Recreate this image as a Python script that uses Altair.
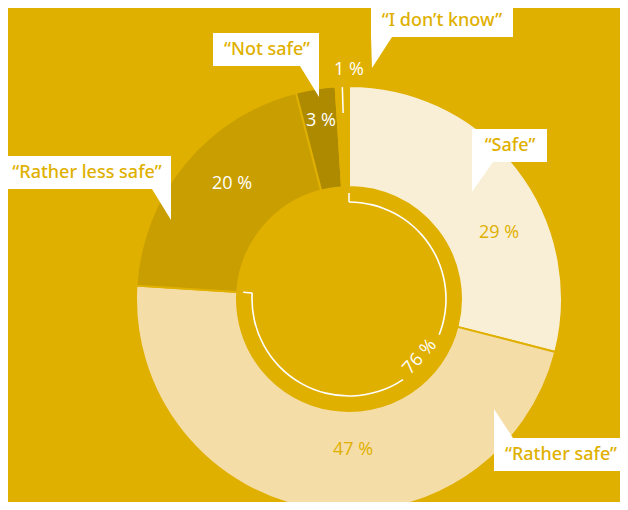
import math
import altair as alt
import pandas as pd

# ---------------- data ----------------
categories = ["Safe", "Rather safe", "Rather less safe", "Not safe", "I don't know"]
values = [29, 47, 20, 3, 1]
value_labels = ["29 %", "47 %", "20 %", "3 %", "1 %"]
callout_texts = ["\u201cSafe\u201d", "\u201cRather safe\u201d", "\u201cRather less safe\u201d",
                 "\u201cNot safe\u201d", "\u201cI don\u2019t know\u201d"]
combined_label = "76 %"
combined_value = 76  # Safe + Rather safe

# ---------------- style / layout ----------------
BG = "#E0B000"
seg_colors = ["#F9EFD6", "#F5DDA8", "#C89E00", "#AE8A00", BG]
label_colors = [BG, BG, "white", "white", "white"]
FONT_NUM = "Open Sans"
FONT_CALL = "Noto Sans"

OFF = 8
W, H = 612, 494
CX, CY = 349 - OFF, 299 - OFF
R_OUT, R_IN = 213, 112
R_RING = 97
R_TICK = 106
GAP = (31.0, 40.6)  # gap in the inner ring for its label (percent units)

# label anchor positions (page pixels)
label_pos = [(499, 233), (353, 450), (232, 184), (321, 121), (349, 70)]
combined_pos = (420, 357)
# callout boxes (x1, x2, y1, y2), text centre, pointer triangle
boxes = [(472, 547, 129, 162), (494, 620, 438, 471), (8, 171, 156, 189),
         (213, 319, 33, 66), (371, 513, 8, 37)]
text_c = [(510, 146), (561, 455), (87, 173), (267, 50), (442, 21)]
tris = [[(472, 162), (493, 162), (472, 192)],
        [(494, 438), (513, 438), (494, 409)],
        [(152, 189), (171, 189), (171, 220)],
        [(300, 66), (319, 66), (319, 97)],
        [(371, 37), (392, 37), (372, 68)]]

TAU = 2 * math.pi
total = sum(values)

seg = pd.DataFrame({"cat": categories, "value": values})
seg["t1"] = seg["value"].cumsum() / total * TAU
seg["t0"] = seg["t1"] - seg["value"] / total * TAU

outer = alt.Chart(seg).mark_arc(
    x=CX, y=CY, radius=R_OUT, radius2=R_IN, stroke=BG, strokeWidth=2
).encode(
    theta=alt.Theta("t0:Q", scale=None, stack=False),
    theta2="t1:Q",
    color=alt.Color("cat:N", scale=alt.Scale(domain=categories, range=seg_colors), legend=None),
)

# inner ring for the combined share
ring = pd.DataFrame({
    "t0": [0, GAP[1] / 100 * TAU],
    "t1": [GAP[0] / 100 * TAU, combined_value / 100 * TAU],
})
ring_arc = alt.Chart(ring).mark_arc(
    x=CX, y=CY, radius=R_RING + 0.8, radius2=R_RING - 0.8, fill="white"
).encode(
    theta=alt.Theta("t0:Q", scale=None, stack=False), theta2="t1:Q"
)

# radial ticks: ring ends + the 1 % slice marker
last_mid = (total - values[-1] / 2) / total * TAU
ticks = pd.DataFrame({
    "t": [0, combined_value / 100 * TAU, last_mid],
    "r1": [R_RING, R_RING, R_OUT - 1],
    "r2": [R_TICK, R_TICK, R_OUT - 27],
})
tick_rules = alt.Chart(ticks).transform_calculate(
    x1=f"{CX} + datum.r1 * sin(datum.t)",
    y1=f"{CY} - datum.r1 * cos(datum.t)",
    x2=f"{CX} + datum.r2 * sin(datum.t)",
    y2=f"{CY} - datum.r2 * cos(datum.t)",
).mark_rule(color="white", strokeWidth=1.5).encode(
    x=alt.X("x1:Q", scale=None), y=alt.Y("y1:Q", scale=None),
    x2="x2:Q", y2="y2:Q",
)

lab = pd.DataFrame({
    "label": value_labels,
    "color": label_colors,
    "px": [p[0] - OFF for p in label_pos],
    "py": [p[1] - OFF for p in label_pos],
})
labels = alt.Chart(lab).mark_text(font=FONT_NUM, fontSize=18, baseline="middle", align="center").encode(
    x=alt.X("px:Q", scale=None), y=alt.Y("py:Q", scale=None),
    text="label:N", color=alt.Color("color:N", scale=None),
)

comb = pd.DataFrame({"label": [combined_label], "px": [combined_pos[0] - OFF], "py": [combined_pos[1] - OFF]})
comb_text = alt.Chart(comb).mark_text(
    font=FONT_NUM, fontSize=18, angle=312, color="white", baseline="middle", align="center"
).encode(x=alt.X("px:Q", scale=None), y=alt.Y("py:Q", scale=None), text="label:N")

# callouts
def tri_path(t):
    (ax, ay) = t[0]
    pts = [(x - ax, y - ay) for x, y in t]
    return "M{},{}L{},{}L{},{}Z".format(*[c for p in pts for c in p])

call = pd.DataFrame({
    "text": callout_texts,
    "x1": [b[0] - OFF for b in boxes], "x2": [b[1] - OFF for b in boxes],
    "y1": [b[2] - OFF for b in boxes], "y2": [b[3] - OFF for b in boxes],
    "tx": [c[0] - OFF for c in text_c], "ty": [c[1] - OFF for c in text_c],
    "ax": [t[0][0] - OFF for t in tris], "ay": [t[0][1] - OFF for t in tris],
    "path": [tri_path(t) for t in tris],
})
pointers = alt.Chart(call).mark_point(filled=True, size=4, opacity=1, fill="white", strokeWidth=0).encode(
    x=alt.X("ax:Q", scale=None), y=alt.Y("ay:Q", scale=None),
    shape=alt.Shape("path:N", scale=None),
)
box_rects = alt.Chart(call).mark_rect(fill="white").encode(
    x=alt.X("x1:Q", scale=None), x2="x2:Q", y=alt.Y("y1:Q", scale=None), y2="y2:Q"
)
call_text = alt.Chart(call).mark_text(
    font=FONT_CALL, fontSize=18, fontWeight=500, color=BG, baseline="middle", align="center"
).encode(x=alt.X("tx:Q", scale=None), y=alt.Y("ty:Q", scale=None), text="text:N")

chart = alt.layer(
    outer, tick_rules, ring_arc, labels, comb_text, pointers, box_rects, call_text
).properties(
    width=W, height=H, background=BG, padding=0,
    autosize=alt.AutoSizeParams(type="none"),
).configure_view(stroke=None)

chart.save("out.html", embed_options={"renderer": "svg", "actions": False})
